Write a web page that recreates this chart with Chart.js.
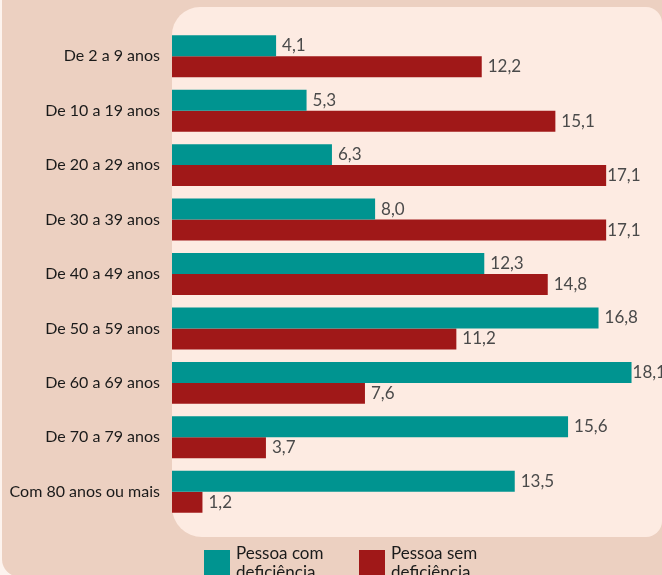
<!DOCTYPE html>
<html>
<head>
<meta charset="utf-8">
<script src="https://cdn.jsdelivr.net/npm/chart.js@4"></script>
<style>
  html, body { margin: 0; padding: 0; background: #fdf3ee; }
  #wrap { position: relative; width: 662px; height: 575px; overflow: hidden; }
  #outer { position: absolute; left: 2px; top: -20px; width: 700px; height: 597px;
           background: #ecd0c1; border-radius: 18px; }
  #panel { position: absolute; left: 172px; top: 7px; width: 490px; height: 530px;
           background: #fdebe2; border-radius: 28px 16px 16px 30px; }
  canvas { position: absolute; left: 0; top: 0; }
  .leg { position: absolute; top: 543px; font: 17px Lato, sans-serif; color: #1a1a1a; line-height: 19px; }
  .leg span { position: absolute; left: 0; top: 7px; width: 26px; height: 30px; }
  .leg div { position: absolute; left: 32px; top: 0; white-space: nowrap; }
</style>
</head>
<body>
<div id="wrap">
  <div id="outer"></div>
  <div id="panel"></div>
  <canvas id="chart" width="662" height="575"></canvas>
  <div class="leg" style="left:204px"><span style="background:#009490"></span><div>Pessoa com<br>deficiência</div></div>
  <div class="leg" style="left:359px"><span style="background:#a01818"></span><div>Pessoa sem<br>deficiência</div></div>
</div>
<script>
// Faixas etárias e percentuais
const categories = ['De 2 a 9 anos', 'De 10 a 19 anos', 'De 20 a 29 anos', 'De 30 a 39 anos',
    'De 40 a 49 anos', 'De 50 a 59 anos', 'De 60 a 69 anos', 'De 70 a 79 anos', 'Com 80 anos ou mais'];
const comDeficiencia = [4.1, 5.3, 6.3, 8.0, 12.3, 16.8, 18.1, 15.6, 13.5];
const semDeficiencia = [12.2, 15.1, 17.1, 17.1, 14.8, 11.2, 7.6, 3.7, 1.2];

const TEAL = '#009490';
const RED = '#a01818';

// rótulos de valor ao fim de cada barra
const valueLabels = {
    id: 'valueLabels',
    afterDatasetsDraw(chart) {
        const ctx = chart.ctx;
        ctx.save();
        ctx.font = '17px Lato, sans-serif';
        ctx.fillStyle = '#4a4a4a';
        ctx.textBaseline = 'middle';
        ctx.textAlign = 'left';
        chart.data.datasets.forEach((ds, di) => {
            chart.getDatasetMeta(di).data.forEach((bar, i) => {
                const txt = ds.data[i].toFixed(1).replace('.', ',');
                const w = ctx.measureText(txt).width;
                let x = bar.x + 6;
                if (x + w > 642) x = bar.x + 1;
                ctx.fillText(txt, x, bar.y);
            });
        });
        ctx.restore();
    }
};

new Chart(document.getElementById('chart'), {
    type: 'bar',
    data: {
        labels: categories,
        datasets: [
            { label: 'Pessoa com deficiência', data: comDeficiencia, backgroundColor: TEAL },
            { label: 'Pessoa sem deficiência', data: semDeficiencia, backgroundColor: RED }
        ]
    },
    options: {
        indexAxis: 'y',
        responsive: false,
        animation: false,
        layout: { padding: { top: 29, bottom: 56, right: 0, left: 0 } },
        datasets: { bar: { categoryPercentage: 0.77, barPercentage: 1.0 } },
        plugins: { legend: { display: false }, tooltip: { enabled: false } },
        scales: {
            x: { display: false, min: 0, max: 19.3 },
            y: {
                afterFit(s) { s.width = 172; },
                grid: { display: false, drawTicks: false },
                border: { display: false },
                ticks: { color: '#1a1a1a', padding: 12, font: { family: 'Lato', size: 16 } }
            }
        }
    },
    plugins: [valueLabels]
});
</script>
</body>
</html>
